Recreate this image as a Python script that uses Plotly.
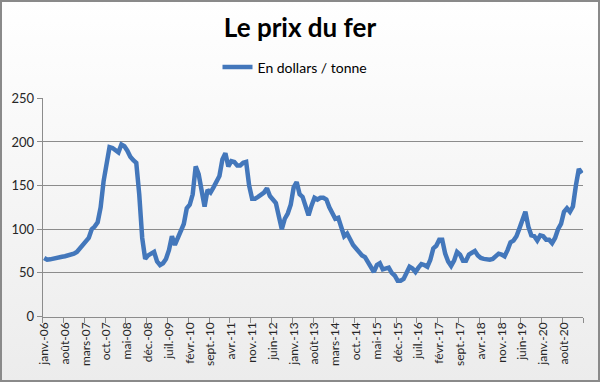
import plotly.graph_objects as go

# ---- data (monthly, janv. 2006 -> févr. 2021), USD / tonne ----
prices = [
    # 2006
    67, 65, 65.5, 66.5, 67, 67.5, 68.5, 69, 70, 70.5, 72, 74,
    # 2007
    78, 82, 86, 90, 100, 103, 108, 125, 155, 175, 194, 193,
    # 2008
    190, 188, 197, 195, 190, 183, 179, 176, 140, 90, 66, 70,
    # 2009
    72, 74, 63, 59, 61, 66, 76, 92, 82, 90, 97, 106,
    # 2010
    124, 128, 140, 172, 163, 145, 126, 145, 142, 148, 155, 161,
    # 2011
    180, 187, 172, 178, 177, 173, 173, 176, 177, 150, 135, 135,
    # 2012
    137, 139, 142, 147, 138, 134, 130, 115, 100, 112, 118, 128,
    # 2013
    148, 154, 140, 137, 125, 116, 127, 136, 134, 136, 136, 134,
    # 2014
    125, 118, 112, 113, 100, 92, 95, 88, 82, 78, 73, 70,
    # 2015
    68, 63, 58, 51, 59, 61, 54, 55, 56, 50, 47, 41,
    # 2016
    41, 43, 50, 57, 55, 51, 56, 60, 59, 57, 65, 78,
    # 2017
    81, 88, 88, 72, 63, 58, 64, 74, 71, 64, 64, 71,
    # 2018
    73, 75, 70, 67, 66, 65, 65, 66, 69, 72, 71, 69,
    # 2019
    76, 85, 87, 92, 101, 110, 120, 103, 93, 92, 87, 93,
    # 2020
    92, 88, 88, 84, 90, 100, 106, 120, 124, 120, 126, 150,
    # 2021
    169, 164,
]

tick_labels = [
    "janv.-06", "août-06", "mars-07", "oct.-07", "mai-08", "déc.-08",
    "juil.-09", "févr.-10", "sept.-10", "avr.-11", "nov.-11", "juin-12",
    "janv.-13", "août-13", "mars-14", "oct.-14", "mai-15", "déc.-15",
    "juil.-16", "févr.-17", "sept.-17", "avr.-18", "nov.-18", "juin-19",
    "janv.-20", "août-20",
]

series_name = "En dollars / tonne"
title_text = "Le prix du fer"
y_ticks = [0, 50, 100, 150, 200, 250]

# ---- figure ----
n = len(prices)
months = list(range(n))
label_step = 7
tick_positions = [i * label_step for i in range(len(tick_labels))]
boundary_ticks = [i * label_step - 0.5 for i in range(n // label_step + 1)]

FONT = "Lato, 'Open Sans', sans-serif"
GRID = "#8c8c8c"

fig = go.Figure()

# background gradient (whole chart area)
fig.add_trace(go.Scatter(
    x=[0, 1, 1, 0, 0], y=[0, 0, 1, 1, 0],
    fill="toself", mode="lines", line=dict(width=0),
    fillgradient=dict(type="vertical", start=0, stop=1,
                      colorscale=[[0, "#ececec"], [1, "#ffffff"]]),
    hoverinfo="skip", showlegend=False, xaxis="x", yaxis="y",
))

fig.add_trace(go.Scatter(
    x=months, y=prices, mode="lines", name=series_name,
    line=dict(color="#4377bb", width=4.5),
    xaxis="x2", yaxis="y2",
))

fig.update_layout(
    width=600, height=382,
    margin=dict(l=0, r=0, t=0, b=0, autoexpand=False),
    paper_bgcolor="white", plot_bgcolor="rgba(0,0,0,0)",
    font=dict(family=FONT, size=12, color="#262626"),
    title=dict(text="<b>" + title_text + "</b>", x=0.5, xanchor="center",
               y=1 - 27.6 / 382, yanchor="middle", yref="container",
               font=dict(family=FONT, size=26, color="#000000")),
    legend=dict(orientation="h", x=295 / 600, xanchor="center",
                y=1 - 67.5 / 382, yanchor="middle",
                bgcolor="rgba(0,0,0,0)", font=dict(size=14, color="#000000"),
                itemwidth=30),
    showlegend=True,
    xaxis=dict(domain=[0, 1], range=[0, 1], visible=False, fixedrange=True,
               automargin=False),
    yaxis=dict(domain=[0, 1], range=[0, 1], visible=False, fixedrange=True,
               automargin=False),
    xaxis2=dict(
        domain=[42.7 / 600, 583.3 / 600], anchor="y2", automargin=False,
        range=[-0.5, n - 0.5],
        tickmode="array", tickvals=tick_positions, ticktext=tick_labels,
        tickangle=-90, ticks="", showgrid=False, zeroline=False,
        showline=True, linecolor=GRID, linewidth=1,
        minor=dict(tickmode="array", tickvals=boundary_ticks, ticks="outside",
                   ticklen=5, tickcolor=GRID, showgrid=False),
        tickfont=dict(size=12, color="#262626"),
    ),
    yaxis2=dict(
        domain=[(382 - 316.5) / 382, (382 - 98.3) / 382], anchor="x2",
        automargin=False,
        range=[0, 250], tickmode="array", tickvals=y_ticks,
        showgrid=True, gridcolor=GRID, gridwidth=1, zeroline=False,
        showline=True, linecolor=GRID, linewidth=1,
        ticks="outside", ticklen=5, tickcolor=GRID,
        tickfont=dict(size=13, color="#262626"),
    ),
    shapes=[dict(type="rect", xref="paper", yref="paper",
                 x0=1 / 600, y0=1 / 382, x1=1 - 1 / 600, y1=1 - 1 / 382,
                 line=dict(color="#8a8a8a", width=2), layer="above")],
)

fig.write_html("out.html", config={"displayModeBar": False},
               post_script="document.body.style.margin='0';")
